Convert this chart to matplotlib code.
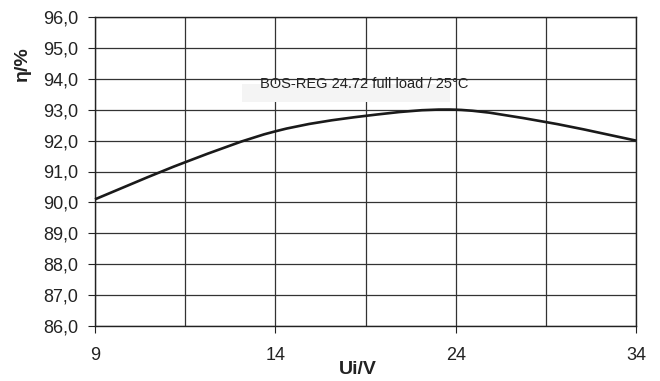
import numpy as np
import matplotlib
matplotlib.use("Agg")
import matplotlib.pyplot as plt
from matplotlib.path import Path
from matplotlib.patches import PathPatch, Rectangle

plt.rcParams["font.family"] = ["Liberation Sans", "DejaVu Sans"]

# categories on the x axis (only every second one is labelled)
ui_values = ["9", "", "14", "", "24", "", "34"]
efficiency = [90.1, 91.3, 92.3, 92.8, 93.0, 92.6, 92.0]
y_ticks = [86, 87, 88, 89, 90, 91, 92, 93, 94, 95, 96]
title = "BOS-REG 24.72 full load / 25°C"

fig = plt.figure(figsize=(6.6, 3.81), dpi=100)
ax = fig.add_axes([95 / 660, 55 / 381, 541 / 660, 309 / 381])

x = np.arange(len(efficiency))
y = np.array(efficiency)

# smoothed line (Catmull-Rom as cubic Bezier segments)
verts = [(x[0], y[0])]
codes = [Path.MOVETO]
for i in range(len(x) - 1):
    p0 = (x[i - 1], y[i - 1]) if i > 0 else (x[i], y[i])
    p1 = (x[i], y[i])
    p2 = (x[i + 1], y[i + 1])
    p3 = (x[i + 2], y[i + 2]) if i + 2 < len(x) else p2
    c1 = (p1[0] + (p2[0] - p0[0]) / 6, p1[1] + (p2[1] - p0[1]) / 6)
    c2 = (p2[0] - (p3[0] - p1[0]) / 6, p2[1] - (p3[1] - p1[1]) / 6)
    verts += [c1, c2, p2]
    codes += [Path.CURVE4] * 3
ax.add_patch(PathPatch(Path(verts, codes), fill=False, edgecolor="#1a1a1a",
                       linewidth=1.9, zorder=3, clip_on=False))

ax.set_xlim(0, len(x) - 1)
ax.set_ylim(86, 96)
ax.set_yticks(y_ticks)
ax.set_yticklabels([f"{v:.1f}".replace(".", ",") for v in y_ticks])
ax.set_xticks(x, minor=True)
labelled = [i for i, s in enumerate(ui_values) if s]
ax.set_xticks(labelled)
ax.set_xticklabels([ui_values[i] for i in labelled])

ax.grid(True, which="both", color="#333333", linewidth=0.9)
ax.set_axisbelow(True)
ax.tick_params(axis="x", which="minor", length=0)
ax.tick_params(axis="x", which="major", length=5, pad=10, labelsize=13,
               colors="#222222")
ax.tick_params(axis="y", length=5, pad=7, labelsize=13, colors="#222222")
for s in ax.spines.values():
    s.set_color("#222222")
    s.set_linewidth(1.0)

# light box behind the caption, slightly offset like the original
ax.add_patch(Rectangle((0.272, 0.725), 0.384, 0.058, transform=ax.transAxes,
                       facecolor="#f4f4f4", edgecolor="none", zorder=2))
ax.text(0.497, 0.783, title, transform=ax.transAxes, ha="center", va="center",
        fontsize=10.5, color="#222222", zorder=4)

fig.text(358 / 660, 1 - 370 / 381, "Ui/V", ha="center", va="center",
         fontsize=14, fontweight="bold", color="#222222")
fig.text(22 / 660, 1 - 64 / 381, "η/%", ha="center", va="center",
         rotation=90, fontsize=14, fontweight="bold", color="#222222")

fig.savefig("out.png", dpi=100)
